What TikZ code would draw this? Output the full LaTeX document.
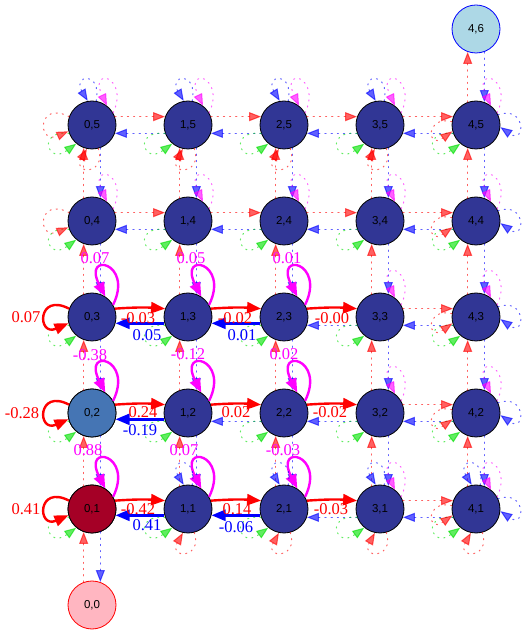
\documentclass[tikz,border=0pt]{standalone}
\usepackage{fontspec}
\setmainfont{Liberation Serif}
\newfontfamily\lsans{Liberation Sans}
\usetikzlibrary{arrows.meta}
\definecolor{navy}{HTML}{313695}
\definecolor{stb}{HTML}{4575B4}
\definecolor{dred}{HTML}{A50026}
\definecolor{pinkc}{HTML}{FFB6C1}
\definecolor{lblue}{HTML}{ADD8E6}
\definecolor{grn}{RGB}{0,224,0}
\definecolor{mag}{RGB}{255,0,255}
\definecolor{rd}{RGB}{255,0,0}
\definecolor{bl}{RGB}{0,0,255}
\begin{document}
\begin{tikzpicture}[x=1pt,y=1pt,
  st/.style={circle,draw=black,line width=0.8pt,minimum size=48pt,inner sep=0pt,fill=navy,font=\lsans\fontsize{11.5}{13}\selectfont},
  dd/.style={opacity=.62,line width=1pt,line cap=round,dash pattern=on 1.2pt off 5pt,-{Triangle[length=12pt,width=9pt]}},
  dR/.style={dd,draw=rd},
  dB/.style={dd,draw=bl},
  dG/.style={dd,draw=grn},
  dM/.style={dd,draw=mag},
  ss/.style={line width=2.4pt,-{Triangle[length=14pt,width=11pt]}},
  sR/.style={ss,draw=rd},
  sB/.style={ss,draw=bl},
  sM/.style={ss,draw=mag},
  lab/.style={font=\fontsize{16.5}{18}\selectfont,inner sep=0pt}]
\useasboundingbox (0,0) rectangle (529,635);
% nodes
\foreach \i in {0,...,4}{\foreach \j in {1,...,5}{
  \node[st] (n\i\j) at ({92+96*\i},{30+96*\j}) {\i,\j};}}
\node[st,fill=stb] (n02) at (92,222) {0,2};
\node[st,fill=dred] (n01) at (92,126) {0,1};
\node[st,fill=pinkc,draw=rd] (n00) at (92,30) {0,0};
\node[st,fill=lblue,draw=bl] (n46) at (476,606) {4,6};
% horizontal edges to the right (red)
\foreach \j in {1,...,5}{\foreach \i [evaluate=\i as \k using int(\i+1)] in {0,...,3}{
  \pgfmathtruncatemacro\hl{and(\i<3,\j<4)}
  \ifnum\hl=1 \draw[sR] (n\i\j.20) to[bend left=4] (n\k\j.160);
  \else \draw[dR] (n\i\j.20) -- (n\k\j.160); \fi
}}
% horizontal edges to the left (blue)
\foreach \j in {1,...,5}{\foreach \i [evaluate=\i as \k using int(\i-1)] in {1,...,4}{
  \pgfmathtruncatemacro\hl{and(and(\i<3,\j<4),not(and(\i==2,\j==2)))}
  \ifnum\hl=1 \draw[sB] (n\i\j.195) -- (n\k\j.-15);
  \else \draw[dB] (n\i\j.200) -- (n\k\j.-20); \fi
}}
% vertical edges
\foreach \i in {0,...,4}{\foreach \j [evaluate=\j as \k using int(\j+1)] in {1,...,4}{
  \draw[dR] (n\i\j.110) -- (n\i\k.250);}}
\foreach \i in {0,...,4}{\foreach \j [evaluate=\j as \k using int(\j-1)] in {2,...,5}{
  \draw[dB] (n\i\j.290) -- (n\i\k.70);}}
\draw[dR] (n00.110) -- (n01.250);
\draw[dB] (n01.290) -- (n00.70);
\draw[dR] (n45.110) -- (n46.250);
\draw[dB] (n46.290) -- (n45.70);
% self loops: green and magenta
\foreach \i in {0,...,4}{\foreach \j in {1,...,5}{
  \begin{scope}[shift={(n\i\j.center)}]
    \draw[dG] (n\i\j.200) .. controls (-55,-5) and (-45,-40) .. (n\i\j.230);
    \pgfmathtruncatemacro\hl{and(\i<3,\j<4)}
    \ifnum\hl=1 \draw[sM] (n\i\j.30) .. controls (42,55) and (-10,66) .. (n\i\j.57);
    \else \draw[dM] (n\i\j.30) .. controls (38,48) and (-4,60) .. (n\i\j.52); \fi
  \end{scope}}}
% left column red loops
\foreach \j in {1,...,5}{
  \begin{scope}[shift={(n0\j.center)}]
    \ifnum\j<4 \draw[sR] (n0\j.160) .. controls (-55,25) and (-55,-20) .. (n0\j.195);
    \else \draw[dR] (n0\j.160) .. controls (-55,25) and (-55,-20) .. (n0\j.195); \fi
  \end{scope}}
% right column loops
\foreach \j in {1,...,5}{
  \begin{scope}[shift={(n4\j.center)}]
    \draw[dR] (n4\j.172) .. controls (-50,10) and (-50,-25) .. (n4\j.195);
    \draw[dB] (n4\j.25) .. controls (50,20) and (50,-20) .. (n4\j.-5);
  \end{scope}}
% top (blue) and bottom (red) loops
\foreach \n in {05,15,25,35,11,21,31,41}{
  \begin{scope}[shift={(n\n.center)}]
    \draw[dB] (n\n.80) .. controls (10,55) and (-20,50) .. (n\n.100);
    \draw[dR] (n\n.285) .. controls (15,-50) and (-20,-50) .. (n\n.258);
  \end{scope}}
% labels
\foreach \t/\x/\y/\c [count=\m] in {
  -0.03/138/317/rd, 0.05/147/300/bl, -0.02/235/317/rd, 0.01/242/300/bl, -0.00/332/317/rd,
  0.24/143/223/rd, -0.19/140/205/bl, 0.02/236/223/rd, -0.02/330/223/rd,
  -0.42/138/126/rd, 0.41/147/110/bl, 0.14/237/126/rd, -0.06/236/108/bl, -0.03/331/126/rd,
  0.07/26/318/rd, -0.28/22/222/rd, 0.41/26/126/rd,
  0.07/95/377/mag, 0.05/191/377/mag, 0.01/287/377/mag,
  -0.38/90/280/mag, -0.12/188/281/mag, 0.02/284/281/mag,
  0.88/88/185/mag, 0.07/184/185/mag, -0.03/283/185/mag}{
  \node[lab,text=\c] (lab\m) at (\x,\y) {\t};}
\end{tikzpicture}
\end{document}
